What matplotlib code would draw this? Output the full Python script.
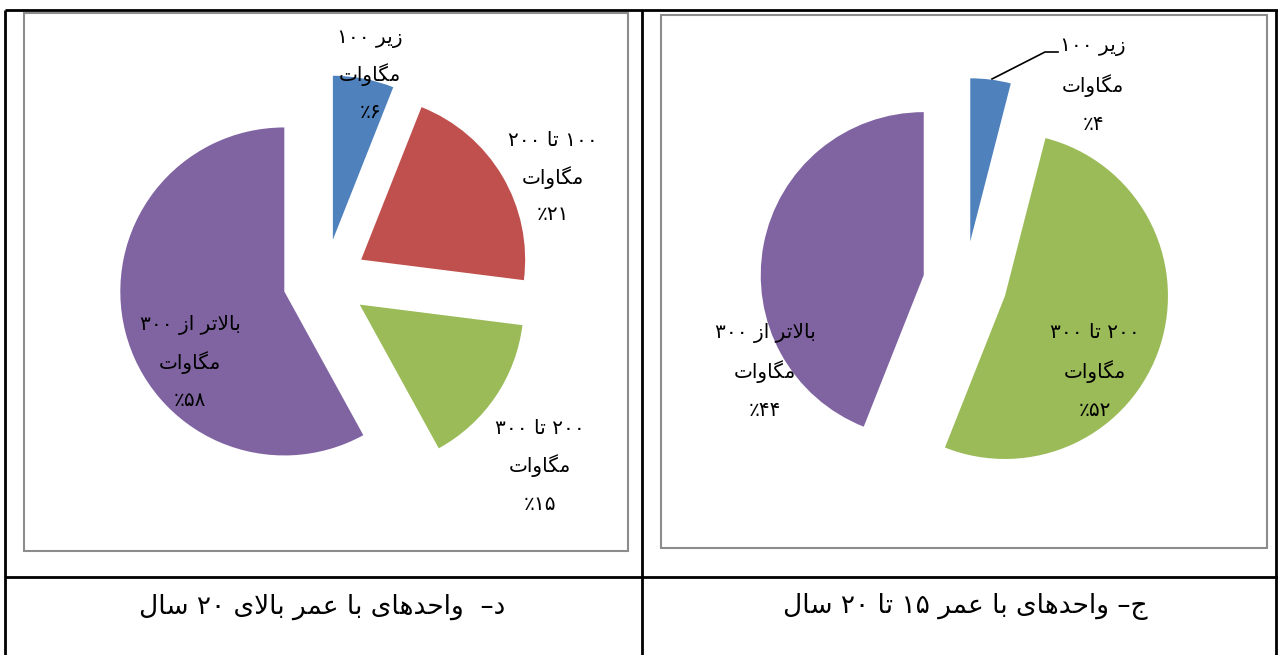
import matplotlib
matplotlib.use('Agg')
import matplotlib.pyplot as plt
from matplotlib.patches import Rectangle

# --- data -----------------------------------------------------------------
share_d = [6, 21, 15, 58]          # units older than 20 years
ranges_d = ['زیر ۱۰۰', '۱۰۰ تا ۲۰۰', '۲۰۰ تا ۳۰۰', 'بالاتر از ۳۰۰']
colors_d = ['#4F81BD', '#C0504D', '#9BBB59', '#8064A2']

share_c = [4, 52, 44]              # units aged 15 to 20 years
ranges_c = ['زیر ۱۰۰', '۲۰۰ تا ۳۰۰', 'بالاتر از ۳۰۰']
colors_c = ['#4F81BD', '#9BBB59', '#8064A2']

unit = 'مگاوات'
caption_d = 'د–  واحدهای با عمر بالای ۲۰ سال'
caption_c = 'ج– واحدهای با عمر ۱۵ تا ۲۰ سال'

# --- simple persian shaping (matplotlib has no bidi/joining) --------------
FORMS = {
    'ا': ('\uFE8D', '\uFE8E', None, None),
    'ب': ('\uFE8F', '\uFE90', '\uFE91', '\uFE92'),
    'ت': ('\uFE95', '\uFE96', '\uFE97', '\uFE98'),
    'ج': ('\uFE9D', '\uFE9E', '\uFE9F', '\uFEA0'),
    'ح': ('\uFEA1', '\uFEA2', '\uFEA3', '\uFEA4'),
    'د': ('\uFEA9', '\uFEAA', None, None),
    'ر': ('\uFEAD', '\uFEAE', None, None),
    'ز': ('\uFEAF', '\uFEB0', None, None),
    'س': ('\uFEB1', '\uFEB2', '\uFEB3', '\uFEB4'),
    'ع': ('\uFEC9', '\uFECA', '\uFECB', '\uFECC'),
    'ل': ('\uFEDD', '\uFEDE', '\uFEDF', '\uFEE0'),
    'م': ('\uFEE1', '\uFEE2', '\uFEE3', '\uFEE4'),
    'ه': ('\uFEE9', '\uFEEA', '\uFEEB', '\uFEEC'),
    'و': ('\uFEED', '\uFEEE', None, None),
    'ی': ('\uFBFC', '\uFBFD', '\uFBFE', '\uFBFF'),
    'گ': ('\uFB92', '\uFB93', '\uFB94', '\uFB95'),
    'لا': ('\uFEFB', '\uFEFC', None, None),
}


def shape(word):
    letters = []
    i = 0
    while i < len(word):
        if word[i] == 'ل' and i + 1 < len(word) and word[i + 1] == 'ا':
            letters.append('لا')
            i += 2
        else:
            letters.append(word[i])
            i += 1
    out = []
    for k, c in enumerate(letters):
        if c not in FORMS:
            out.append(c)
            continue
        prev = letters[k - 1] if k > 0 else None
        nxt = letters[k + 1] if k + 1 < len(letters) else None
        back = prev in FORMS and FORMS[prev][2] is not None
        fwd = FORMS[c][2] is not None and nxt in FORMS
        iso, fin, ini, med = FORMS[c]
        if back and fwd:
            out.append(med)
        elif back:
            out.append(fin)
        elif fwd:
            out.append(ini)
        else:
            out.append(iso)
    return ''.join(out)


def rtl(text):
    words = []
    for w in text.split(' '):
        if any(ch in FORMS for ch in w):
            words.append(shape(w)[::-1])
        else:
            words.append(w)
    return ' '.join(reversed(words))


def fa_num(v):
    return str(v).translate(str.maketrans('0123456789', '۰۱۲۳۴۵۶۷۸۹'))


plt.rcParams['font.family'] = ['DejaVu Sans']

fig = plt.figure(figsize=(12.78, 6.55), dpi=100)
ax = fig.add_axes([0, 0, 1, 1])

# pies, drawn in pixel coordinates with y pointing down
ax.pie(share_d, colors=colors_d, startangle=-90, counterclock=True,
       radius=164, center=(325, 281), explode=[42] * len(share_d),
       wedgeprops=dict(linewidth=0), frame=True)
ax.pie(share_c, colors=colors_c, startangle=-90, counterclock=True,
       radius=163, center=(965, 283), explode=[42] * len(share_c),
       wedgeprops=dict(linewidth=0), frame=True)

ax.set_xlim(0, 1278)
ax.set_ylim(655, 0)
ax.axis('off')

# data labels: range / unit / percent
label_pos_d = [(370, 38, 37), (553, 141, 37), (540, 428, 38), (190, 325, 38)]
label_pos_c = [(1093, 47, 39), (1095, 333, 39), (765, 333, 39)]

for rngs, shares, pos in [(ranges_d, share_d, label_pos_d),
                          (ranges_c, share_c, label_pos_c)]:
    for r, s, (x, y0, dy) in zip(rngs, shares, pos):
        lines = [rtl(r), rtl(unit), '٪' + fa_num(s)]
        for i, t in enumerate(lines):
            ax.text(x, y0 + i * dy, t, ha='center', va='center',
                    fontsize=14.5, color='black')

# leader line for the small slice on the right
ax.plot([992, 1045, 1058], [79, 52, 52], color='black', lw=1.2)

# chart frames
ax.add_patch(Rectangle((24, 13), 604, 538, fill=False,
                       edgecolor='#8c8c8c', lw=1.5))
ax.add_patch(Rectangle((661, 15), 606, 533, fill=False,
                       edgecolor='#8c8c8c', lw=1.5))

# table grid
kw = dict(color='black', lw=2, solid_capstyle='butt')
ax.plot([5, 1278], [10, 10], **kw)
ax.plot([5, 1278], [577, 577], **kw)
ax.plot([5, 5], [10, 655], **kw)
ax.plot([642, 642], [10, 655], **kw)
ax.plot([1276, 1276], [10, 655], **kw)

ax.text(322, 607, rtl(caption_d), ha='center', va='center', fontsize=19)
ax.text(965, 607, rtl(caption_c), ha='center', va='center', fontsize=19)

fig.savefig('out.png', dpi=100)
